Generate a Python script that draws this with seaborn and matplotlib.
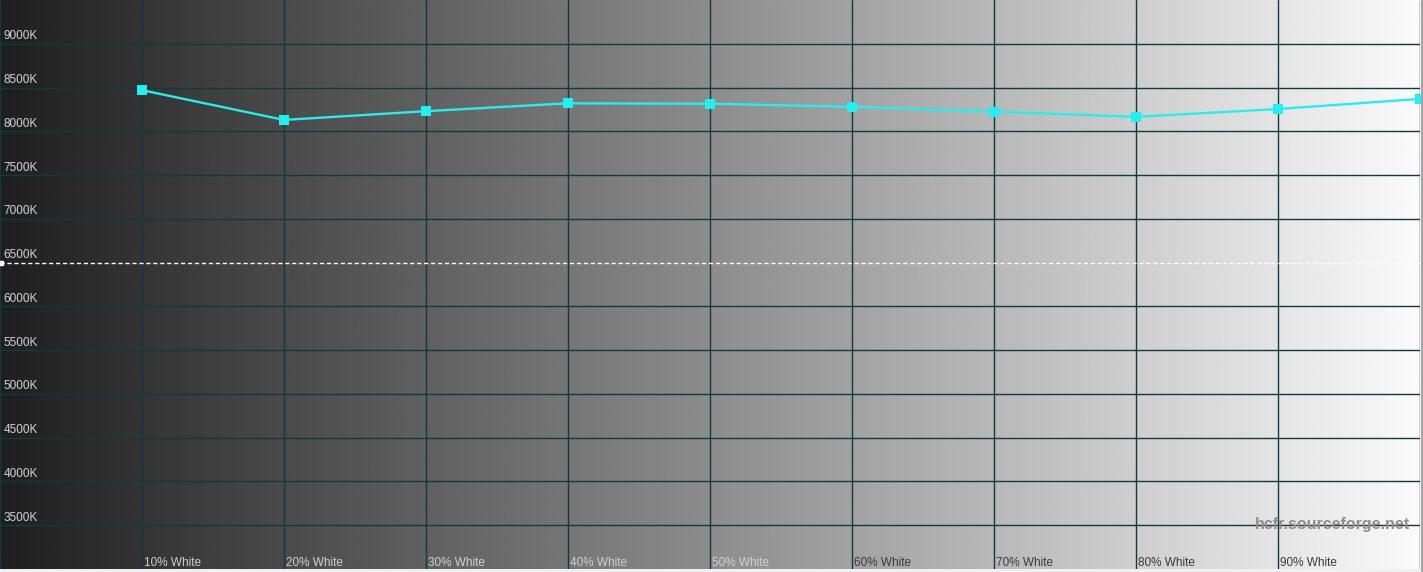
import numpy as np
import pandas as pd
import matplotlib
matplotlib.use("Agg")
import matplotlib.pyplot as plt
import seaborn as sns
from matplotlib.lines import Line2D

# measured colour temperature per grey level
levels = [10, 20, 30, 40, 50, 60, 70, 80, 90, 100]
cct = [8470, 8130, 8230, 8320, 8315, 8280, 8225, 8165, 8255, 8370]
level_labels = ["10% White", "20% White", "30% White", "40% White", "50% White",
                "60% White", "70% White", "80% White", "90% White"]
y_ticks = [3500, 4000, 4500, 5000, 5500, 6000, 6500, 7000, 7500, 8000, 8500, 9000]
target = 6500

df = pd.DataFrame({"level": levels, "cct": cct})

sns.set_style("white")
plt.rcParams["font.family"] = ["Liberation Sans", "DejaVu Sans"]

fig = plt.figure(figsize=(14.23, 5.72), dpi=100, facecolor="#f0f0f0")
ax = fig.add_axes([0, 3 / 572, 1420 / 1423, 569 / 572])

xmin, xmax, ymin, ymax = 0, 100, 3000, 9500

# grey ramp background
ramp = np.linspace(0.12, 0.98, 512).reshape(1, -1)
ax.imshow(ramp, cmap="gray", vmin=0, vmax=1, aspect="auto",
          extent=(xmin, xmax, ymin, ymax), origin="lower", zorder=0)

grid_col = "#0f3a40"
for x in [0] + levels:
    ax.axvline(x, color=grid_col, lw=1.0, zorder=1)
for y in y_ticks:
    if y != target:
        ax.axhline(y, color=grid_col, lw=1.0, zorder=1)
ax.axhline(target, color="white", lw=1, ls=(0, (3, 2)), zorder=2)
ax.plot([0.1], [target], marker="s", color="white", ms=3, zorder=3, clip_on=False)

sns.lineplot(data=df, x="level", y="cct", ax=ax, color="#22f0f0", lw=1.7,
             marker="s", markersize=6.5, markeredgewidth=0, zorder=4)

for y in y_ticks:
    ax.text(0.25, y + 18, f"{y}K", color="#d4d4d4", fontsize=8.5,
            ha="left", va="bottom", zorder=5)

for x, lab in zip(levels, level_labels):
    col = "#d0d0d0" if x <= 50 else "#3a3a3a"
    ax.text(x + 0.15, ymin - 5, lab, color=col, fontsize=8.5,
            ha="left", va="bottom", zorder=5)

ax.text(99.3, 3510, "hcfr.sourceforge.net", color="#8e8e8e", fontsize=11.5,
        fontweight="bold", ha="right", va="center", zorder=5)

ax.set_xlim(xmin, xmax)
ax.set_ylim(ymin, ymax)
ax.set_xticks([])
ax.set_yticks([])
ax.set_xlabel("")
ax.set_ylabel("")
for s in ax.spines.values():
    s.set_visible(False)

fig.add_artist(Line2D([1421.5 / 1423, 1421.5 / 1423], [0, 1], color="#a0a0a0",
                      lw=2, transform=fig.transFigure))

fig.savefig("out.png", dpi=100, facecolor=fig.get_facecolor())
